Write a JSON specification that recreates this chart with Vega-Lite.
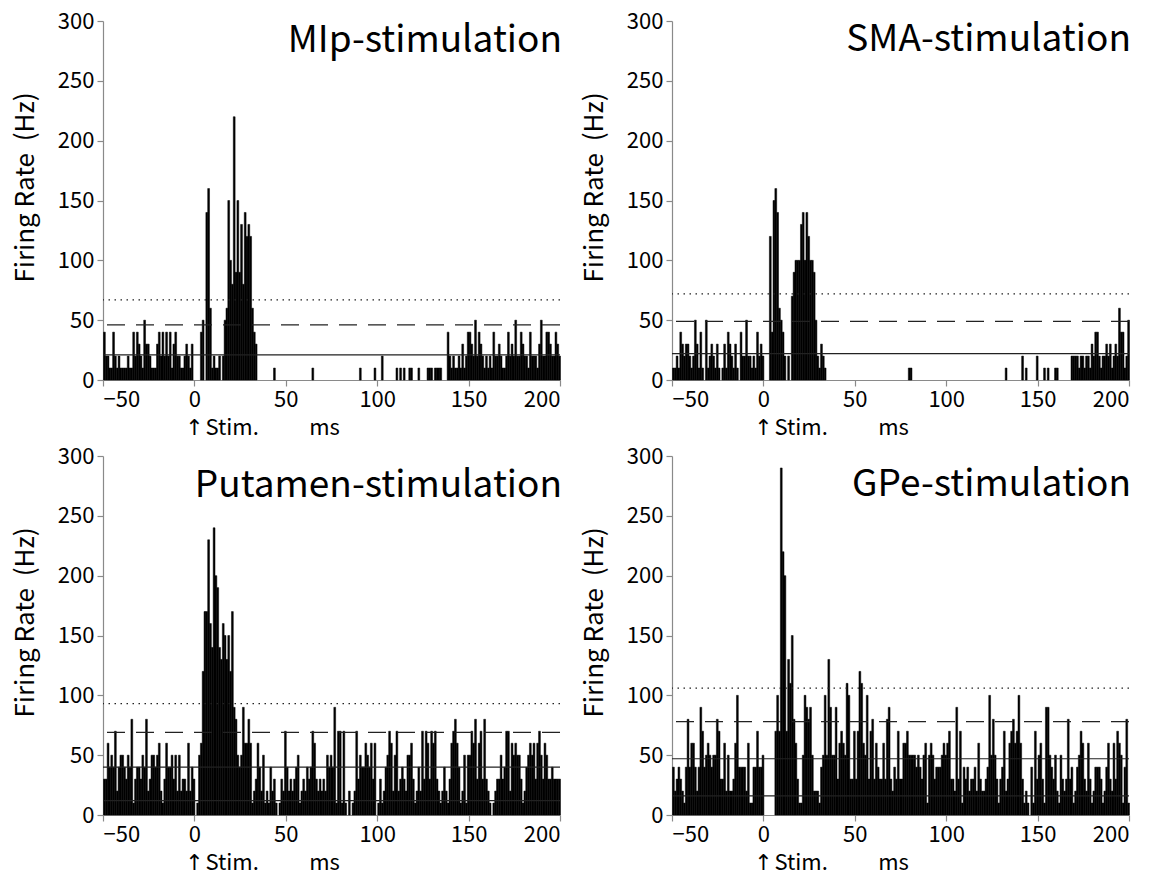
{
  "$schema": "https://vega.github.io/schema/vega-lite/v6.json",
  "padding": {"left": 12, "top": 10, "right": 5, "bottom": 5},
  "background": "white",
  "config": {
    "font": "Noto Sans CJK JP",
    "view": {"stroke": null},
    "axis": {"grid": false, "domainColor": "#8a8a8a", "tickColor": "#8a8a8a", "domainWidth": 1.2, "tickWidth": 1.2, "labelFontSize": 22, "labelColor": "#000", "titleFontSize": 26, "titleFontWeight": "normal", "titleColor": "#000", "tickSize": 6, "labelPadding": 3, "labelFont": "Noto Sans CJK JP", "titleFont": "Noto Sans CJK JP"},
    "axisY": {"titleY": 166, "titleAlign": "center"},
    "text": {"font": "Noto Sans CJK JP", "color": "#000"}
  },
  "datasets": {
    "mip": [
      {"t":-50,"v":40},{"t":-49,"v":20},{"t":-48,"v":20},{"t":-47,"v":10},{"t":-46,"v":10},{"t":-45,"v":40},{"t":-44,"v":20},{"t":-43,"v":10},{"t":-42,"v":20},{"t":-41,"v":10},
      {"t":-40,"v":10},{"t":-39,"v":10},{"t":-38,"v":10},{"t":-37,"v":20},{"t":-36,"v":10},{"t":-35,"v":10},{"t":-34,"v":40},{"t":-33,"v":20},{"t":-32,"v":40},{"t":-31,"v":30},
      {"t":-30,"v":20},{"t":-29,"v":10},{"t":-28,"v":50},{"t":-27,"v":30},{"t":-26,"v":30},{"t":-25,"v":20},{"t":-24,"v":10},{"t":-23,"v":10},{"t":-22,"v":10},{"t":-21,"v":30},
      {"t":-20,"v":40},{"t":-19,"v":20},{"t":-18,"v":40},{"t":-17,"v":20},{"t":-16,"v":40},{"t":-15,"v":20},{"t":-14,"v":40},{"t":-13,"v":10},{"t":-12,"v":30},{"t":-11,"v":40},
      {"t":-10,"v":20},{"t":-9,"v":20},{"t":-8,"v":10},{"t":-7,"v":10},{"t":-6,"v":20},{"t":-5,"v":30},{"t":-4,"v":20},{"t":-3,"v":10},{"t":-2,"v":30},
      {"t":3,"v":40},{"t":4,"v":50},{"t":6,"v":140},{"t":7,"v":160},{"t":8,"v":60},{"t":9,"v":10},{"t":10,"v":20},{"t":11,"v":10},{"t":12,"v":10},{"t":13,"v":20},
      {"t":15,"v":20},{"t":16,"v":50},{"t":17,"v":60},{"t":18,"v":150},{"t":19,"v":100},{"t":20,"v":80},{"t":21,"v":220},{"t":22,"v":90},{"t":23,"v":150},{"t":24,"v":90},
      {"t":25,"v":130},{"t":26,"v":80},{"t":27,"v":140},{"t":28,"v":120},{"t":29,"v":130},{"t":30,"v":120},{"t":31,"v":60},{"t":32,"v":40},{"t":33,"v":30},
      {"t":43,"v":10},{"t":64,"v":10},{"t":90,"v":10},{"t":98,"v":10},{"t":102,"v":20},{"t":110,"v":10},{"t":112,"v":10},{"t":114,"v":10},{"t":117,"v":10},{"t":118,"v":10},
      {"t":122,"v":10},{"t":127,"v":10},{"t":128,"v":10},{"t":129,"v":10},{"t":131,"v":10},{"t":132,"v":10},{"t":133,"v":10},{"t":134,"v":10},
      {"t":138,"v":40},{"t":139,"v":20},{"t":140,"v":10},{"t":141,"v":20},{"t":142,"v":10},{"t":143,"v":10},{"t":144,"v":20},{"t":145,"v":10},{"t":146,"v":30},{"t":147,"v":10},
      {"t":148,"v":20},{"t":149,"v":40},{"t":150,"v":40},{"t":151,"v":30},{"t":152,"v":20},{"t":153,"v":50},{"t":154,"v":20},{"t":155,"v":40},{"t":156,"v":30},{"t":157,"v":20},
      {"t":158,"v":10},{"t":159,"v":20},{"t":160,"v":10},{"t":161,"v":20},{"t":162,"v":10},{"t":163,"v":40},{"t":164,"v":20},{"t":165,"v":20},{"t":166,"v":30},{"t":167,"v":20},
      {"t":168,"v":10},{"t":169,"v":10},{"t":170,"v":20},{"t":171,"v":40},{"t":172,"v":20},{"t":173,"v":30},{"t":174,"v":20},{"t":175,"v":50},{"t":176,"v":20},{"t":177,"v":20},
      {"t":178,"v":40},{"t":179,"v":30},{"t":180,"v":20},{"t":181,"v":20},{"t":182,"v":10},{"t":183,"v":40},{"t":184,"v":20},{"t":185,"v":20},{"t":186,"v":20},{"t":187,"v":10},
      {"t":188,"v":30},{"t":189,"v":50},{"t":190,"v":20},{"t":191,"v":20},{"t":192,"v":40},{"t":193,"v":40},{"t":194,"v":30},{"t":195,"v":20},{"t":196,"v":20},{"t":197,"v":40},
      {"t":198,"v":30},{"t":199,"v":20}
    ],
    "sma": [
      {"t":-50,"v":10},{"t":-49,"v":10},{"t":-48,"v":20},{"t":-47,"v":10},{"t":-46,"v":40},{"t":-45,"v":30},{"t":-44,"v":20},{"t":-43,"v":30},{"t":-42,"v":30},{"t":-41,"v":20},
      {"t":-40,"v":10},{"t":-39,"v":20},{"t":-38,"v":50},{"t":-37,"v":30},{"t":-36,"v":10},{"t":-35,"v":40},{"t":-34,"v":10},{"t":-32,"v":50},{"t":-31,"v":10},
      {"t":-30,"v":20},{"t":-29,"v":30},{"t":-28,"v":20},{"t":-27,"v":10},{"t":-26,"v":30},{"t":-25,"v":10},{"t":-23,"v":10},{"t":-22,"v":30},{"t":-21,"v":10},
      {"t":-20,"v":40},{"t":-19,"v":30},{"t":-18,"v":20},{"t":-17,"v":10},{"t":-16,"v":30},{"t":-15,"v":10},{"t":-13,"v":40},{"t":-12,"v":20},{"t":-11,"v":20},
      {"t":-10,"v":50},{"t":-9,"v":20},{"t":-8,"v":20},{"t":-7,"v":10},{"t":-6,"v":20},{"t":-5,"v":10},{"t":-4,"v":40},{"t":-3,"v":20},{"t":-2,"v":30},{"t":-1,"v":20},
      {"t":3,"v":120},{"t":4,"v":40},{"t":5,"v":150},{"t":6,"v":160},{"t":7,"v":140},{"t":8,"v":60},{"t":9,"v":50},{"t":10,"v":40},{"t":11,"v":20},{"t":13,"v":20},
      {"t":15,"v":70},{"t":16,"v":90},{"t":17,"v":100},{"t":18,"v":100},{"t":19,"v":100},{"t":20,"v":130},{"t":21,"v":140},{"t":22,"v":100},{"t":23,"v":140},{"t":24,"v":120},
      {"t":25,"v":100},{"t":26,"v":100},{"t":27,"v":90},{"t":28,"v":50},{"t":29,"v":20},{"t":30,"v":10},{"t":31,"v":30},{"t":32,"v":20},{"t":33,"v":10},
      {"t":79,"v":10},{"t":80,"v":10},{"t":132,"v":10},{"t":141,"v":20},{"t":143,"v":10},{"t":149,"v":20},{"t":153,"v":10},{"t":155,"v":10},{"t":159,"v":10},{"t":160,"v":10},
      {"t":168,"v":20},{"t":169,"v":20},{"t":170,"v":20},{"t":171,"v":20},{"t":172,"v":10},{"t":173,"v":20},{"t":174,"v":20},{"t":175,"v":10},{"t":176,"v":20},{"t":177,"v":20},
      {"t":178,"v":10},{"t":179,"v":30},{"t":180,"v":20},{"t":181,"v":40},{"t":182,"v":40},{"t":183,"v":20},{"t":184,"v":10},{"t":185,"v":20},{"t":186,"v":20},{"t":187,"v":30},
      {"t":188,"v":20},{"t":189,"v":30},{"t":190,"v":10},{"t":191,"v":20},{"t":192,"v":30},{"t":193,"v":20},{"t":194,"v":60},{"t":195,"v":40},{"t":196,"v":40},{"t":197,"v":10},
      {"t":198,"v":20},{"t":199,"v":50}
    ],
    "put": [
      {"t":-50,"v":30},{"t":-49,"v":30},{"t":-48,"v":60},{"t":-47,"v":40},{"t":-46,"v":50},{"t":-45,"v":40},{"t":-44,"v":70},{"t":-43,"v":20},{"t":-42,"v":40},{"t":-41,"v":50},
      {"t":-40,"v":50},{"t":-39,"v":40},{"t":-38,"v":30},{"t":-37,"v":50},{"t":-36,"v":40},{"t":-35,"v":80},{"t":-34,"v":10},{"t":-33,"v":30},{"t":-32,"v":40},{"t":-31,"v":40},
      {"t":-30,"v":30},{"t":-29,"v":50},{"t":-28,"v":40},{"t":-27,"v":80},{"t":-26,"v":20},{"t":-25,"v":30},{"t":-24,"v":50},{"t":-23,"v":50},{"t":-22,"v":40},{"t":-21,"v":50},
      {"t":-20,"v":60},{"t":-19,"v":20},{"t":-18,"v":10},{"t":-17,"v":30},{"t":-16,"v":60},{"t":-15,"v":40},{"t":-14,"v":40},{"t":-13,"v":50},{"t":-12,"v":30},{"t":-11,"v":50},
      {"t":-10,"v":20},{"t":-9,"v":50},{"t":-8,"v":20},{"t":-7,"v":30},{"t":-6,"v":30},{"t":-5,"v":20},{"t":-4,"v":60},{"t":-3,"v":20},{"t":-2,"v":40},{"t":-1,"v":30},
      {"t":1,"v":10},{"t":2,"v":50},{"t":3,"v":60},{"t":4,"v":120},{"t":5,"v":170},{"t":6,"v":170},{"t":7,"v":230},{"t":8,"v":160},{"t":9,"v":140},
      {"t":10,"v":240},{"t":11,"v":200},{"t":12,"v":190},{"t":13,"v":140},{"t":14,"v":130},{"t":15,"v":160},{"t":16,"v":150},{"t":17,"v":130},{"t":18,"v":150},{"t":19,"v":120},
      {"t":20,"v":170},{"t":21,"v":90},{"t":22,"v":80},{"t":23,"v":50},{"t":24,"v":40},{"t":25,"v":50},{"t":26,"v":90},{"t":27,"v":60},{"t":28,"v":60},{"t":29,"v":80},
      {"t":30,"v":60},{"t":31,"v":10},{"t":32,"v":20},{"t":33,"v":30},{"t":34,"v":60},{"t":35,"v":40},{"t":36,"v":20},{"t":37,"v":50},{"t":38,"v":10},{"t":39,"v":20},
      {"t":40,"v":10},{"t":41,"v":40},{"t":42,"v":20},{"t":43,"v":30},{"t":44,"v":10},{"t":46,"v":10},{"t":47,"v":30},{"t":48,"v":20},{"t":49,"v":70},
      {"t":50,"v":40},{"t":51,"v":20},{"t":52,"v":30},{"t":53,"v":20},{"t":54,"v":30},{"t":55,"v":40},{"t":56,"v":50},{"t":57,"v":10},{"t":58,"v":20},{"t":59,"v":30},
      {"t":60,"v":20},{"t":61,"v":40},{"t":62,"v":30},{"t":63,"v":40},{"t":64,"v":70},{"t":65,"v":60},{"t":66,"v":30},{"t":67,"v":20},{"t":68,"v":30},{"t":69,"v":20},
      {"t":70,"v":30},{"t":71,"v":20},{"t":72,"v":50},{"t":73,"v":40},{"t":74,"v":50},{"t":75,"v":40},{"t":76,"v":90},{"t":77,"v":10},{"t":78,"v":70},{"t":79,"v":70},
      {"t":80,"v":10},{"t":81,"v":70},{"t":82,"v":10},{"t":84,"v":20},{"t":86,"v":10},{"t":87,"v":20},{"t":88,"v":70},{"t":89,"v":30},
      {"t":90,"v":50},{"t":91,"v":40},{"t":92,"v":40},{"t":93,"v":60},{"t":94,"v":50},{"t":95,"v":40},{"t":96,"v":60},{"t":97,"v":30},{"t":98,"v":60},
      {"t":100,"v":10},{"t":101,"v":30},{"t":102,"v":10},{"t":103,"v":20},{"t":104,"v":40},{"t":105,"v":50},{"t":106,"v":70},{"t":107,"v":60},{"t":108,"v":20},{"t":109,"v":50},
      {"t":110,"v":70},{"t":111,"v":20},{"t":112,"v":30},{"t":113,"v":40},{"t":114,"v":30},{"t":115,"v":20},{"t":116,"v":50},{"t":117,"v":50},{"t":118,"v":60},{"t":119,"v":30},
      {"t":120,"v":10},{"t":121,"v":20},{"t":122,"v":40},{"t":123,"v":20},{"t":124,"v":70},{"t":125,"v":30},{"t":126,"v":70},{"t":127,"v":60},{"t":128,"v":30},{"t":129,"v":70},
      {"t":130,"v":60},{"t":131,"v":70},{"t":132,"v":30},{"t":133,"v":20},{"t":134,"v":10},{"t":135,"v":20},{"t":136,"v":40},{"t":137,"v":20},{"t":138,"v":10},{"t":139,"v":30},
      {"t":140,"v":60},{"t":141,"v":70},{"t":142,"v":80},{"t":143,"v":60},{"t":144,"v":40},{"t":145,"v":10},{"t":146,"v":20},{"t":147,"v":50},{"t":148,"v":10},{"t":149,"v":50},
      {"t":150,"v":50},{"t":151,"v":70},{"t":152,"v":60},{"t":153,"v":80},{"t":154,"v":30},{"t":155,"v":60},{"t":156,"v":70},{"t":157,"v":30},{"t":158,"v":80},{"t":159,"v":30},
      {"t":160,"v":20},{"t":161,"v":10},{"t":163,"v":10},{"t":164,"v":20},{"t":165,"v":30},{"t":166,"v":30},{"t":167,"v":50},{"t":168,"v":30},{"t":169,"v":40},
      {"t":170,"v":70},{"t":171,"v":70},{"t":172,"v":20},{"t":173,"v":60},{"t":174,"v":50},{"t":175,"v":60},{"t":176,"v":50},{"t":177,"v":50},{"t":178,"v":30},{"t":179,"v":10},
      {"t":180,"v":20},{"t":181,"v":40},{"t":182,"v":50},{"t":183,"v":60},{"t":184,"v":50},{"t":185,"v":60},{"t":186,"v":30},{"t":187,"v":60},{"t":188,"v":70},{"t":189,"v":50},
      {"t":190,"v":30},{"t":191,"v":60},{"t":192,"v":50},{"t":193,"v":30},{"t":194,"v":30},{"t":195,"v":40},{"t":196,"v":30},{"t":197,"v":30},{"t":198,"v":30},{"t":199,"v":30}
    ],
    "gpe": [
      {"t":-50,"v":40},{"t":-49,"v":20},{"t":-48,"v":30},{"t":-47,"v":40},{"t":-46,"v":30},{"t":-45,"v":20},{"t":-44,"v":10},{"t":-43,"v":40},{"t":-42,"v":80},{"t":-41,"v":40},
      {"t":-40,"v":60},{"t":-39,"v":60},{"t":-38,"v":40},{"t":-37,"v":20},{"t":-36,"v":40},{"t":-35,"v":90},{"t":-34,"v":70},{"t":-33,"v":40},{"t":-32,"v":50},{"t":-31,"v":60},
      {"t":-30,"v":50},{"t":-29,"v":40},{"t":-28,"v":50},{"t":-27,"v":50},{"t":-26,"v":80},{"t":-25,"v":70},{"t":-24,"v":30},{"t":-23,"v":30},{"t":-22,"v":60},{"t":-21,"v":20},
      {"t":-20,"v":50},{"t":-19,"v":20},{"t":-18,"v":20},{"t":-17,"v":30},{"t":-16,"v":60},{"t":-15,"v":100},{"t":-14,"v":40},{"t":-13,"v":40},{"t":-12,"v":40},{"t":-11,"v":40},
      {"t":-10,"v":20},{"t":-9,"v":60},{"t":-8,"v":10},{"t":-7,"v":10},{"t":-6,"v":40},{"t":-5,"v":40},{"t":-4,"v":70},{"t":-3,"v":40},{"t":-2,"v":40},{"t":-1,"v":50},
      {"t":6,"v":70},{"t":7,"v":100},{"t":8,"v":70},{"t":9,"v":290},
      {"t":10,"v":220},{"t":11,"v":200},{"t":12,"v":70},{"t":13,"v":130},{"t":14,"v":110},{"t":15,"v":150},{"t":16,"v":80},{"t":17,"v":60},{"t":18,"v":30},{"t":19,"v":10},
      {"t":20,"v":10},{"t":21,"v":50},{"t":22,"v":100},{"t":23,"v":90},{"t":24,"v":80},{"t":25,"v":90},{"t":26,"v":50},{"t":27,"v":20},{"t":28,"v":20},{"t":29,"v":20},
      {"t":30,"v":10},{"t":31,"v":40},{"t":32,"v":50},{"t":33,"v":100},{"t":34,"v":50},{"t":35,"v":130},{"t":36,"v":90},{"t":37,"v":50},{"t":38,"v":50},{"t":39,"v":90},
      {"t":40,"v":30},{"t":41,"v":60},{"t":42,"v":70},{"t":43,"v":60},{"t":44,"v":50},{"t":45,"v":110},{"t":46,"v":100},{"t":47,"v":30},{"t":48,"v":30},{"t":49,"v":70},
      {"t":50,"v":30},{"t":51,"v":70},{"t":52,"v":120},{"t":53,"v":110},{"t":54,"v":60},{"t":55,"v":50},{"t":56,"v":100},{"t":57,"v":30},{"t":58,"v":70},{"t":59,"v":80},
      {"t":60,"v":30},{"t":61,"v":60},{"t":62,"v":40},{"t":63,"v":30},{"t":64,"v":30},{"t":65,"v":60},{"t":66,"v":30},{"t":67,"v":80},{"t":68,"v":90},{"t":69,"v":30},
      {"t":70,"v":20},{"t":71,"v":40},{"t":72,"v":30},{"t":73,"v":70},{"t":74,"v":30},{"t":75,"v":30},{"t":76,"v":60},{"t":77,"v":60},{"t":78,"v":70},{"t":79,"v":50},
      {"t":80,"v":50},{"t":81,"v":50},{"t":82,"v":50},{"t":83,"v":40},{"t":84,"v":50},{"t":85,"v":40},{"t":86,"v":30},{"t":87,"v":50},{"t":88,"v":60},{"t":89,"v":10},
      {"t":90,"v":50},{"t":91,"v":60},{"t":92,"v":50},{"t":93,"v":30},{"t":94,"v":40},{"t":95,"v":40},{"t":96,"v":40},{"t":97,"v":50},{"t":98,"v":60},{"t":99,"v":50},
      {"t":100,"v":60},{"t":101,"v":70},{"t":102,"v":30},{"t":103,"v":30},{"t":104,"v":20},{"t":105,"v":90},{"t":106,"v":30},{"t":107,"v":70},{"t":108,"v":10},{"t":109,"v":40},
      {"t":110,"v":30},{"t":111,"v":40},{"t":112,"v":20},{"t":113,"v":30},{"t":114,"v":30},{"t":115,"v":40},{"t":116,"v":20},{"t":117,"v":60},{"t":118,"v":30},{"t":119,"v":20},
      {"t":120,"v":20},{"t":121,"v":30},{"t":122,"v":40},{"t":123,"v":100},{"t":124,"v":50},{"t":125,"v":80},{"t":126,"v":50},{"t":127,"v":30},{"t":128,"v":10},{"t":129,"v":30},
      {"t":130,"v":40},{"t":131,"v":70},{"t":132,"v":20},{"t":133,"v":30},{"t":134,"v":60},{"t":135,"v":70},{"t":136,"v":80},{"t":137,"v":60},{"t":138,"v":70},{"t":139,"v":100},
      {"t":140,"v":60},{"t":141,"v":30},{"t":142,"v":10},{"t":143,"v":20},{"t":144,"v":10},{"t":146,"v":40},{"t":147,"v":10},{"t":148,"v":70},{"t":149,"v":30},
      {"t":150,"v":50},{"t":151,"v":60},{"t":152,"v":30},{"t":153,"v":10},{"t":154,"v":90},{"t":155,"v":90},{"t":156,"v":50},{"t":157,"v":40},{"t":158,"v":30},{"t":159,"v":50},
      {"t":160,"v":20},{"t":161,"v":10},{"t":162,"v":50},{"t":163,"v":30},{"t":164,"v":20},{"t":165,"v":30},{"t":166,"v":80},{"t":167,"v":30},{"t":168,"v":40},{"t":169,"v":10},
      {"t":170,"v":20},{"t":171,"v":40},{"t":172,"v":50},{"t":173,"v":70},{"t":174,"v":60},{"t":175,"v":30},{"t":176,"v":20},{"t":177,"v":60},{"t":178,"v":30},{"t":179,"v":10},
      {"t":180,"v":20},{"t":181,"v":40},{"t":182,"v":40},{"t":183,"v":40},{"t":184,"v":30},{"t":185,"v":10},{"t":186,"v":20},{"t":187,"v":40},{"t":188,"v":60},{"t":189,"v":30},
      {"t":190,"v":20},{"t":191,"v":60},{"t":192,"v":30},{"t":193,"v":70},{"t":194,"v":60},{"t":195,"v":50},{"t":196,"v":10},{"t":197,"v":40},{"t":198,"v":80},{"t":199,"v":10}
    ]
  },
  "columns": 2,
  "spacing": {"row": 76, "column": 112},
  "bounds": "flush",
  "concat": [
    {
      "width": 457, "height": 359,
      "layer": [
        {"data": {"name": "mip"}, "mark": {"type": "bar", "binSpacing": 0, "color": "#000", "stroke": "#000", "strokeWidth": 0.5},
         "encoding": {
           "x": {"field": "t", "type": "quantitative", "bin": {"step": 1, "extent": [-50, 200]}, "scale": {"domain": [-50, 200], "nice": false}, "axis": {"values": [-50, 0, 50, 100, 150, 200], "title": "ms", "titleX": 221, "titleY": 54, "titleAlign": "center", "titleBaseline": "alphabetic", "titleFontSize": 22}},
           "y": {"field": "v", "type": "quantitative", "scale": {"domain": [0, 300], "nice": false}, "axis": {"values": [0, 50, 100, 150, 200, 250, 300], "title": "Firing Rate\u00a0 (Hz)", "titlePadding": 19}}
         }},
        {"data": {"values": [{"kind": "dot", "level": 67}, {"kind": "dash", "level": 46}, {"kind": "solid", "level": 21}]},
         "mark": {"type": "rule", "color": "#222", "strokeWidth": 1.2},
         "encoding": {"y": {"field": "level", "type": "quantitative"}, "strokeDash": {"field": "kind", "type": "nominal", "scale": {"domain": ["dot", "dash", "solid"], "range": [[1.5, 4.5], [18, 11], [1, 0]]}, "legend": null}}},
        {"data": {"values": [{"label": "MIp-stimulation"}]}, "mark": {"type": "text", "align": "right", "baseline": "alphabetic", "fontSize": 37, "dy": 31, "dx": 2},
         "encoding": {"x": {"datum": 200}, "y": {"datum": 300}, "text": {"field": "label"}}},
        {"data": {"values": [{"label": "Stim."}]}, "mark": {"type": "text", "align": "left", "baseline": "alphabetic", "fontSize": 22, "dx": 11, "dy": 55},
         "encoding": {"x": {"datum": 0}, "y": {"datum": 0}, "text": {"field": "label"}}},
        {"data": {"values": [{"label": "↑"}]}, "mark": {"type": "text", "align": "center", "baseline": "alphabetic", "fontSize": 22, "dy": 55, "font": "DejaVu Sans"},
         "encoding": {"x": {"datum": 0}, "y": {"datum": 0}, "text": {"field": "label"}}}
      ]
    },
    {
      "width": 457, "height": 359,
      "layer": [
        {"data": {"name": "sma"}, "mark": {"type": "bar", "binSpacing": 0, "color": "#000", "stroke": "#000", "strokeWidth": 0.5},
         "encoding": {
           "x": {"field": "t", "type": "quantitative", "bin": {"step": 1, "extent": [-50, 200]}, "scale": {"domain": [-50, 200], "nice": false}, "axis": {"values": [-50, 0, 50, 100, 150, 200], "title": "ms", "titleX": 221, "titleY": 54, "titleAlign": "center", "titleBaseline": "alphabetic", "titleFontSize": 22}},
           "y": {"field": "v", "type": "quantitative", "scale": {"domain": [0, 300], "nice": false}, "axis": {"values": [0, 50, 100, 150, 200, 250, 300], "title": "Firing Rate\u00a0 (Hz)", "titlePadding": 19}}
         }},
        {"data": {"values": [{"kind": "dot", "level": 72}, {"kind": "dash", "level": 49}, {"kind": "solid", "level": 22}]},
         "mark": {"type": "rule", "color": "#222", "strokeWidth": 1.2},
         "encoding": {"y": {"field": "level", "type": "quantitative"}, "strokeDash": {"field": "kind", "type": "nominal", "scale": {"domain": ["dot", "dash", "solid"], "range": [[1.5, 4.5], [18, 11], [1, 0]]}, "legend": null}}},
        {"data": {"values": [{"label": "SMA-stimulation"}]}, "mark": {"type": "text", "align": "right", "baseline": "alphabetic", "fontSize": 37, "dy": 30, "dx": 2},
         "encoding": {"x": {"datum": 200}, "y": {"datum": 300}, "text": {"field": "label"}}},
        {"data": {"values": [{"label": "Stim."}]}, "mark": {"type": "text", "align": "left", "baseline": "alphabetic", "fontSize": 22, "dx": 11, "dy": 55},
         "encoding": {"x": {"datum": 0}, "y": {"datum": 0}, "text": {"field": "label"}}},
        {"data": {"values": [{"label": "↑"}]}, "mark": {"type": "text", "align": "center", "baseline": "alphabetic", "fontSize": 22, "dy": 55, "font": "DejaVu Sans"},
         "encoding": {"x": {"datum": 0}, "y": {"datum": 0}, "text": {"field": "label"}}}
      ]
    },
    {
      "width": 457, "height": 359,
      "layer": [
        {"data": {"name": "put"}, "mark": {"type": "bar", "binSpacing": 0, "color": "#000", "stroke": "#000", "strokeWidth": 0.5},
         "encoding": {
           "x": {"field": "t", "type": "quantitative", "bin": {"step": 1, "extent": [-50, 200]}, "scale": {"domain": [-50, 200], "nice": false}, "axis": {"values": [-50, 0, 50, 100, 150, 200], "title": "ms", "titleX": 221, "titleY": 54, "titleAlign": "center", "titleBaseline": "alphabetic", "titleFontSize": 22}},
           "y": {"field": "v", "type": "quantitative", "scale": {"domain": [0, 300], "nice": false}, "axis": {"values": [0, 50, 100, 150, 200, 250, 300], "title": "Firing Rate\u00a0 (Hz)", "titlePadding": 19}}
         }},
        {"data": {"values": [{"kind": "dot", "level": 93}, {"kind": "dash", "level": 69}, {"kind": "solid", "level": 40}, {"kind": "solid", "level": 12}]},
         "mark": {"type": "rule", "color": "#222", "strokeWidth": 1.2},
         "encoding": {"y": {"field": "level", "type": "quantitative"}, "strokeDash": {"field": "kind", "type": "nominal", "scale": {"domain": ["dot", "dash", "solid"], "range": [[1.5, 4.5], [18, 11], [1, 0]]}, "legend": null}}},
        {"data": {"values": [{"label": "Putamen-stimulation"}]}, "mark": {"type": "text", "align": "right", "baseline": "alphabetic", "fontSize": 37, "dy": 41, "dx": 2},
         "encoding": {"x": {"datum": 200}, "y": {"datum": 300}, "text": {"field": "label"}}},
        {"data": {"values": [{"label": "Stim."}]}, "mark": {"type": "text", "align": "left", "baseline": "alphabetic", "fontSize": 22, "dx": 11, "dy": 55},
         "encoding": {"x": {"datum": 0}, "y": {"datum": 0}, "text": {"field": "label"}}},
        {"data": {"values": [{"label": "↑"}]}, "mark": {"type": "text", "align": "center", "baseline": "alphabetic", "fontSize": 22, "dy": 55, "font": "DejaVu Sans"},
         "encoding": {"x": {"datum": 0}, "y": {"datum": 0}, "text": {"field": "label"}}}
      ]
    },
    {
      "width": 457, "height": 359,
      "layer": [
        {"data": {"name": "gpe"}, "mark": {"type": "bar", "binSpacing": 0, "color": "#000", "stroke": "#000", "strokeWidth": 0.5},
         "encoding": {
           "x": {"field": "t", "type": "quantitative", "bin": {"step": 1, "extent": [-50, 200]}, "scale": {"domain": [-50, 200], "nice": false}, "axis": {"values": [-50, 0, 50, 100, 150, 200], "title": "ms", "titleX": 221, "titleY": 54, "titleAlign": "center", "titleBaseline": "alphabetic", "titleFontSize": 22}},
           "y": {"field": "v", "type": "quantitative", "scale": {"domain": [0, 300], "nice": false}, "axis": {"values": [0, 50, 100, 150, 200, 250, 300], "title": "Firing Rate\u00a0 (Hz)", "titlePadding": 19}}
         }},
        {"data": {"values": [{"kind": "dot", "level": 106}, {"kind": "dash", "level": 78}, {"kind": "solid", "level": 47}, {"kind": "solid", "level": 16}]},
         "mark": {"type": "rule", "color": "#222", "strokeWidth": 1.2},
         "encoding": {"y": {"field": "level", "type": "quantitative"}, "strokeDash": {"field": "kind", "type": "nominal", "scale": {"domain": ["dot", "dash", "solid"], "range": [[1.5, 4.5], [18, 11], [1, 0]]}, "legend": null}}},
        {"data": {"values": [{"label": "GPe-stimulation"}]}, "mark": {"type": "text", "align": "right", "baseline": "alphabetic", "fontSize": 37, "dy": 40, "dx": 2},
         "encoding": {"x": {"datum": 200}, "y": {"datum": 300}, "text": {"field": "label"}}},
        {"data": {"values": [{"label": "Stim."}]}, "mark": {"type": "text", "align": "left", "baseline": "alphabetic", "fontSize": 22, "dx": 11, "dy": 55},
         "encoding": {"x": {"datum": 0}, "y": {"datum": 0}, "text": {"field": "label"}}},
        {"data": {"values": [{"label": "↑"}]}, "mark": {"type": "text", "align": "center", "baseline": "alphabetic", "fontSize": 22, "dy": 55, "font": "DejaVu Sans"},
         "encoding": {"x": {"datum": 0}, "y": {"datum": 0}, "text": {"field": "label"}}}
      ]
    }
  ]
}
